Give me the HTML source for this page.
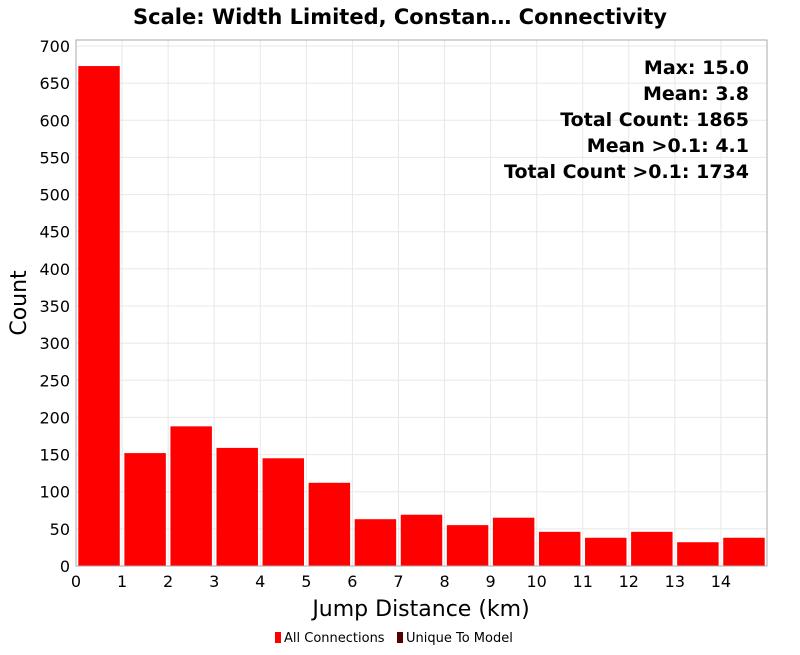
<!DOCTYPE html>
<html><head><meta charset="utf-8"><style>
body{margin:0;background:#fff;}
svg text{font-family:"DejaVu Sans","Liberation Sans",sans-serif;}
</style></head><body>
<svg width="800" height="650" xmlns="http://www.w3.org/2000/svg" id="chart">
<text x="400" y="24" text-anchor="middle" font-size="21" font-weight="bold">Scale: Width Limited, Constan… Connectivity</text>
<g id="grid"></g>
<g id="bars"></g>
<rect x="76" y="40" width="691" height="526" fill="none" stroke="#aaa"/>
<g id="yticks"></g>
<g id="xticks"></g>
<text x="26" y="303" font-size="22" text-anchor="middle" transform="rotate(-90 26 303)">Count</text>
<text x="421" y="616" font-size="22" text-anchor="middle">Jump Distance (km)</text>
<g font-size="19" font-weight="bold" text-anchor="end">
<text x="749" y="74">Max: 15.0</text>
<text x="749" y="100">Mean: 3.8</text>
<text x="749" y="126">Total Count: 1865</text>
<text x="749" y="152">Mean &gt;0.1: 4.1</text>
<text x="749" y="178">Total Count &gt;0.1: 1734</text>
</g>
<g font-size="13">
<rect x="275" y="632" width="6" height="11" fill="#ff0000"/>
<text x="284" y="642">All Connections</text>
<rect x="397" y="632" width="6" height="11" fill="#550000"/>
<text x="406" y="642">Unique To Model</text>
</g>
</svg>
<script>
const binStarts=[0,1,2,3,4,5,6,7,8,9,10,11,12,13,14];
const counts=[673,152,188,159,145,112,63,69,55,65,46,38,46,32,38];
const yTicks=[0,50,100,150,200,250,300,350,400,450,500,550,600,650,700];
const xTicks=[0,1,2,3,4,5,6,7,8,9,10,11,12,13,14];
const NS="http://www.w3.org/2000/svg";
const X0=76,X1=767,Y0=566,Y1=46;
function xs(v){return X0+(v/15)*(X1-X0);}
function ys(v){return Y0-(v/700)*(Y0-Y1);}
function mk(t,a){const e=document.createElementNS(NS,t);for(const k in a)e.setAttribute(k,a[k]);return e;}
const grid=document.getElementById('grid'),bars=document.getElementById('bars'),yt=document.getElementById('yticks'),xt=document.getElementById('xticks');
yTicks.forEach(v=>{
 const l=mk('line',{x1:X0,x2:X1,y1:ys(v),y2:ys(v),stroke:'#e8e8e8'});
 
 
 grid.appendChild(l);
 const t=mk('text',{x:X0-6,y:ys(v)+6,'text-anchor':'end','font-size':'16'});
 t.textContent=v;
 
 
 yt.appendChild(t);
});
xTicks.forEach(v=>{
 const l=mk('line',{x1:xs(v),x2:xs(v),y1:40,y2:Y0,stroke:'#e8e8e8'});
 
 
 grid.appendChild(l);
 const t=mk('text',{x:xs(v),y:587,'text-anchor':'middle','font-size':'16'});
 t.textContent=v;
 
 
 xt.appendChild(t);
});
binStarts.forEach((b,i)=>{
 const x=xs(b+0.05),w=xs(b+0.95)-x;
 const r=mk('rect',{x:x,y:ys(counts[i]),width:w,height:Y0-ys(counts[i]),fill:'#ff0000'});
 
 
 bars.appendChild(r);
});
</script>
</body></html>
